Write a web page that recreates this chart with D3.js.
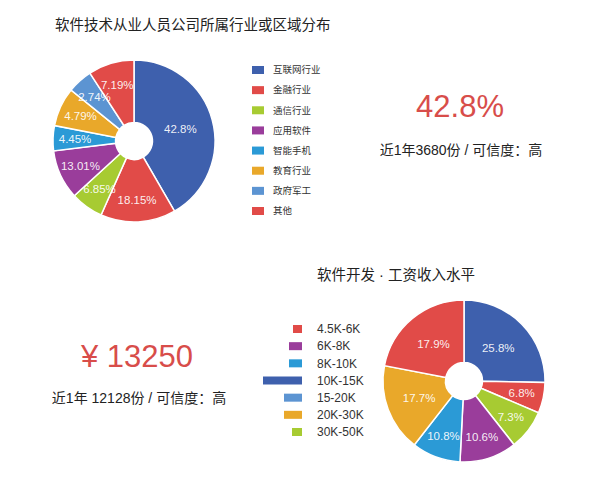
<!DOCTYPE html>
<html>
<head>
<meta charset="utf-8">
<title>软件技术从业人员</title>
<script src="https://cdn.jsdelivr.net/npm/d3@7/dist/d3.min.js"></script>
<style>
body { margin: 0; background: #fff; }
svg { display: block; font-family: "Helvetica Neue", Helvetica, Arial, "Noto Sans CJK SC", sans-serif; }
</style>
</head>
<body>
<svg id="chart"></svg>
<script>
// 行业分布: 标签值 与 图中扇形所占角度(度)
var industryNames = ["互联网行业", "金融行业", "通信行业", "应用软件", "智能手机", "教育行业", "政府军工", "其他"];
var industryValues = [42.8, 18.15, 6.85, 13.01, 4.45, 4.79, 2.74, 7.19];
var industryArc = [150, 54, 23.5, 35.5, 18, 28, 18, 33];
var industryColors = ["#3e60ad", "#e14b48", "#a7cb32", "#9a3d9b", "#2b9ad6", "#e9a82a", "#5c94d2", "#e14b48"];

// 工资分布 (饼图顺时针)
var salaryValues = [25.8, 6.8, 7.3, 10.6, 10.8, 17.7, 17.9];
var salaryArc = [91, 22, 28.7, 41, 35, 63, 79];
var salaryColors = ["#3e60ad", "#e14b48", "#a7cb32", "#9a3d9b", "#2b9ad6", "#e9a82a", "#e14b48"];

// 工资图例
var salaryLegend = ["4.5K-6K", "6K-8K", "8K-10K", "10K-15K", "15-20K", "20K-30K", "30K-50K"];
var salaryLegendColors = ["#e14b48", "#9a3d9b", "#2b9ad6", "#3e60ad", "#5c94d2", "#e9a82a", "#a7cb32"];
var salaryLegendBar = [9, 13, 13, 39, 18, 18, 10];

var w = 600, h = 486;
var svg = d3.select("#chart").attr("width", w).attr("height", h);

function drawPie(cx, cy, labels, weights, colors) {
	var pie = d3.pie().sort(null).value(function(d) { return d.w; });
	var arc = d3.arc().innerRadius(18.5).outerRadius(81);
	var g = svg.append("g").attr("transform", "translate(" + cx + "," + cy + ")");
	var arcs = pie(labels.map(function(v, i) { return { v: v, w: weights[i] }; }));
	g.selectAll("path").data(arcs).enter().append("path")
		.attr("d", arc)
		.attr("fill", function(d, i) { return colors[i]; })
		.attr("stroke", "#fff")
		.attr("stroke-width", 1.5);
	// 宽扇形标签靠内, 窄扇形标签靠外
	g.selectAll("text").data(arcs).enter().append("text")
		.attr("transform", function(d) {
			var r = (d.endAngle - d.startAngle) > 1.0 ? 48 : 59;
			return "translate(" + d3.arc().innerRadius(r).outerRadius(r).centroid(d) + ")";
		})
		.attr("text-anchor", "middle")
		.attr("dy", "0.36em")
		.attr("fill", "#fff")
		.attr("fill-opacity", 0.92)
		.style("font-size", "11.5px")
		.text(function(d) { return d.data.v + "%"; });
}

// 上半部分
svg.append("text").attr("x", 55).attr("y", 30)
	.style("font-size", "14.5px").attr("fill", "#222")
	.text("软件技术从业人员公司所属行业或区域分布");

drawPie(134, 141, industryValues, industryArc, industryColors);

var leg1 = svg.append("g");
var y1 = d3.scalePoint().domain(industryNames).range([70, 211]);
leg1.selectAll("rect").data(industryNames).enter().append("rect")
	.attr("x", 252).attr("y", function(d) { return y1(d) - 4; })
	.attr("width", 12).attr("height", 8)
	.attr("fill", function(d, i) { return industryColors[i]; });
leg1.selectAll("text").data(industryNames).enter().append("text")
	.attr("x", 273).attr("y", function(d) { return y1(d); })
	.attr("dy", "0.35em")
	.style("font-size", "9.5px").attr("fill", "#333")
	.text(function(d) { return d; });

svg.append("text").attr("x", 460).attr("y", 117)
	.attr("text-anchor", "middle")
	.style("font-size", "31px").attr("fill", "#d84d4a")
	.text(industryValues[0] + "%");
svg.append("text").attr("x", 461).attr("y", 155)
	.attr("text-anchor", "middle")
	.style("font-size", "14px").attr("fill", "#222")
	.text("近1年3680份 / 可信度：高");

// 下半部分
svg.append("text").attr("x", 317).attr("y", 280)
	.style("font-size", "14.5px").attr("fill", "#222")
	.text("软件开发 · 工资收入水平");

drawPie(464, 381, salaryValues, salaryArc, salaryColors);

var leg2 = svg.append("g");
var y2 = d3.scalePoint().domain(salaryLegend).range([329, 432]);
leg2.selectAll("rect").data(salaryLegend).enter().append("rect")
	.attr("x", function(d, i) { return 302 - salaryLegendBar[i]; })
	.attr("y", function(d) { return y2(d) - 4; })
	.attr("width", function(d, i) { return salaryLegendBar[i]; })
	.attr("height", 8)
	.attr("fill", function(d, i) { return salaryLegendColors[i]; });
leg2.selectAll("text").data(salaryLegend).enter().append("text")
	.attr("x", 317).attr("y", function(d) { return y2(d); })
	.attr("dy", "0.35em")
	.style("font-size", "12px").attr("fill", "#333")
	.text(function(d) { return d; });

svg.append("text").attr("x", 137).attr("y", 367)
	.attr("text-anchor", "middle")
	.style("font-size", "31px").attr("fill", "#d84d4a")
	.text("¥ 13250");
svg.append("text").attr("x", 139).attr("y", 403)
	.attr("text-anchor", "middle")
	.style("font-size", "14px").attr("fill", "#222")
	.text("近1年 12128份 / 可信度：高");
</script>
</body>
</html>
